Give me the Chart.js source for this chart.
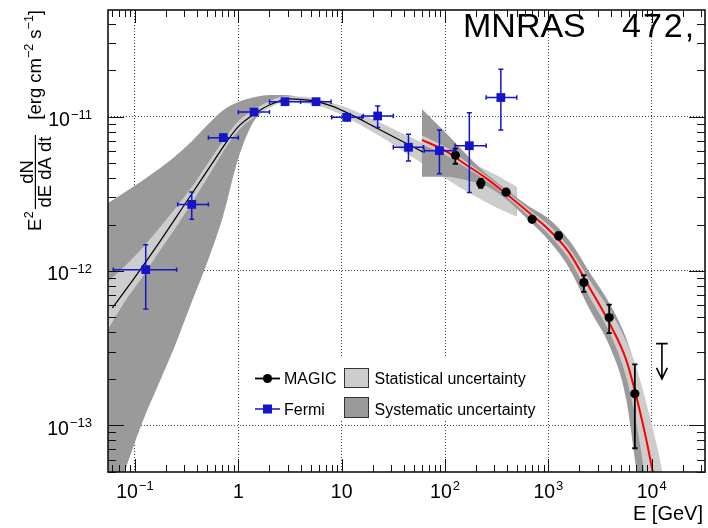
<!DOCTYPE html>
<html>
<head>
<meta charset="utf-8">
<script src="https://cdn.jsdelivr.net/npm/chart.js@4.4.1/dist/chart.umd.min.js"></script>
<style>
  html, body { margin: 0; padding: 0; background: #ffffff; }
  #wrap { width: 708px; height: 528px; position: relative; }
</style>
</head>
<body>
<div id="wrap"><canvas id="sed" width="708" height="528"></canvas></div>
<script>
// ---------------------------------------------------------------------------
// Spectral energy distribution: Fermi-LAT and MAGIC
// Energies in GeV, fluxes as E^2 dN/(dE dA dt) in erg cm^-2 s^-1
// ---------------------------------------------------------------------------

// Fermi-LAT spectral points
const fermiE   = [0.127, 0.354, 0.716, 1.42, 2.83, 5.65, 11.2, 22.3, 44.3, 88.3, 172, 347];
const fermiELo = [0.0617, 0.259, 0.513, 1.0, 2.0, 4.0, 8.0, 16.2, 31.6, 63, 125, 250];
const fermiEHi = [0.253, 0.513, 1.0, 2.0, 4.0, 7.9, 15.7, 31.6, 62, 125, 250, 495];
const fermiF   = [1.02e-12, 2.70e-12, 7.31e-12, 1.07e-11, 1.25e-11, 1.25e-11, 9.9e-12, 1.01e-11, 6.33e-12, 6.02e-12, 6.48e-12, 1.33e-11];
const fermiFLo = [5.67e-13, 2.16e-12, 6.95e-12, 1.03e-11, 1.21e-11, 1.20e-11, 9.4e-12, 8.5e-12, 5.16e-12, 4.26e-12, 3.22e-12, 8.2e-12];
const fermiFHi = [1.48e-12, 3.25e-12, 7.7e-12, 1.11e-11, 1.29e-11, 1.30e-11, 1.04e-11, 1.17e-11, 7.7e-12, 8.2e-12, 1.06e-11, 2.03e-11];

// MAGIC spectral points
const magicE   = [126, 222, 390, 697, 1254, 2206, 3880, 6870];
const magicF   = [5.62e-12, 3.70e-12, 3.24e-12, 2.16e-12, 1.69e-12, 8.41e-13, 4.99e-13, 1.60e-13];
const magicFLo = [4.95e-12, 3.45e-12, 3.12e-12, 2.08e-12, 1.60e-12, 7.31e-13, 3.96e-13, 7.1e-14];
const magicFHi = [6.2e-12, 3.95e-12, 3.36e-12, 2.24e-12, 1.78e-12, 9.38e-13, 6.05e-13, 2.48e-13];

// MAGIC upper limit (bar value and arrow tip)
const magicUlE = [12560];
const magicUlF = [3.38e-13];
const magicUlTip = [2.0e-13];

// Fitted spectra, tabulated as log10(E/GeV) and log10(flux)
const fermiFitLogE = [-1.22, -1.0, -0.75, -0.5, -0.25, -0.1, 0.0, 0.15, 0.3, 0.5, 0.7, 0.9, 1.1, 1.3, 1.5, 1.79];
const fermiFitLogF = [-12.24, -12.04, -11.80, -11.55, -11.30, -11.15, -11.065, -10.985, -10.925, -10.885, -10.895, -10.93, -10.99, -11.06, -11.13, -11.23];

const magicFitLogE = [1.776, 2.0, 2.2, 2.4, 2.6, 2.8, 3.0, 3.2, 3.4, 3.6, 3.75, 3.85, 3.95, 4.05];
const magicFitLogF = [-11.15, -11.22, -11.31, -11.40, -11.505, -11.615, -11.73, -11.88, -12.11, -12.35, -12.57, -12.81, -13.10, -13.44];

// Fermi uncertainty bands (log10 values)
const fermiBandLogE   = [-1.261, -1.1, -0.94, -0.75, -0.616, -0.45, -0.293, -0.15, 0.0, 0.15, 0.3, 0.45, 0.6, 0.8, 1.0, 1.25, 1.5, 1.75, 2.0, 2.25, 2.5, 2.695];
const fermiStatHiLogF = [-12.07, -11.97, -11.86, -11.71, -11.60, -11.455, -11.30, -11.16, -11.03, -10.955, -10.90, -10.87, -10.87, -10.89, -10.93, -11.00, -11.08, -11.16, -11.235, -11.30, -11.38, -11.455];
const fermiStatLoLogF = [-12.38, -12.20, -12.05, -11.86, -11.73, -11.56, -11.39, -11.23, -11.09, -11.005, -10.945, -10.905, -10.91, -10.935, -10.99, -11.08, -11.18, -11.29, -11.40, -11.50, -11.59, -11.648];
const fermiSysHiLogF  = [-11.56, -11.49, -11.42, -11.33, -11.26, -11.16, -11.05, -10.96, -10.905, -10.875, -10.86, -10.86, -10.875, -10.895, -10.935, -11.005, -11.085, -11.165, -11.24, -11.305, -11.385, -11.46];
const fermiSysLoLogF  = [-13.60, -13.30, -13.00, -12.70, -12.49, -12.20, -11.93, -11.65, -11.27, -11.03, -10.94, -10.90, -10.905, -10.93, -10.985, -11.075, -11.175, -11.285, -11.395, -11.495, -11.585, -11.643];

// MAGIC uncertainty bands (log10 values)
const magicBandLogE   = [1.776, 2.0, 2.2, 2.4, 2.6, 2.8, 3.0, 3.2, 3.4, 3.6, 3.75, 3.85, 3.95, 4.05, 4.15];
const magicSysHiLogF  = [-10.95, -11.10, -11.24, -11.37, -11.475, -11.575, -11.66, -11.80, -12.01, -12.22, -12.43, -12.64, -12.90, -13.20, -13.55];
const magicSysLoLogF  = [-11.39, -11.39, -11.41, -11.45, -11.54, -11.665, -11.80, -11.98, -12.25, -12.50, -12.82, -13.28, -13.75, -14.20, -14.70];
const magicStatHiLogF = [-11.12, -11.195, -11.29, -11.385, -11.49, -11.595, -11.70, -11.85, -12.06, -12.26, -12.45, -12.62, -12.86, -13.13, -13.46];
const magicStatLoLogF = [-11.18, -11.245, -11.33, -11.415, -11.52, -11.635, -11.76, -11.92, -12.17, -12.41, -12.68, -12.98, -13.40, -13.85, -14.30];

// Axis ranges and labelled decades
const X_MIN = 0.0548, X_MAX = 32800;
const Y_MIN = 4.98e-14, Y_MAX = 4.91e-11;
const xMajorTicks = [0.1, 1, 10, 100, 1000, 10000];
const xTickLabels = [['10', '\u22121'], ['1', ''], ['10', ''], ['10', '2'], ['10', '3'], ['10', '4']];
const yMajorTicks = [1e-13, 1e-12, 1e-11];
const yTickLabels = [['10', '\u221213'], ['10', '\u221212'], ['10', '\u221211']];

// ---------------------------------------------------------------------------
const FONT = '"Liberation Sans", Arial, Helvetica, sans-serif';
const BLUE = '#1414c8';
const LIGHT = '#cdcdcd';
const DARK = '#9a9a9a';

const pow10 = arr => arr.map(v => Math.pow(10, v));
const pts = (xs, ys) => xs.map((x, i) => ({ x: x, y: ys[i] }));

function edge(label, xs, ys, order) {
  return { label, data: pts(pow10(xs), pow10(ys)), borderWidth: 0, borderColor: 'rgba(0,0,0,0)',
           pointRadius: 0, cubicInterpolationMode: 'monotone', fill: false, order };
}
function edgeFilled(label, xs, ys, order, color) {
  const d = edge(label, xs, ys, order);
  d.fill = '-1';
  d.backgroundColor = color;
  return d;
}

// Inward tick marks on all four sides (1..9 per decade)
function decadeTicks(min, max) {
  const out = [];
  for (let e = Math.floor(Math.log10(min)); e <= Math.ceil(Math.log10(max)); e++) {
    for (let m = 1; m <= 9; m++) {
      const v = m * Math.pow(10, e);
      if (v >= min * 0.999 && v <= max * 1.001) out.push({ v, major: m === 1 });
    }
  }
  return out;
}

const errorBarPlugin = {
  id: 'errorBars',
  beforeDatasetDraw(chart, args) {
    const ds = chart.data.datasets[args.index];
    if (ds.label !== 'Fermi' && ds.label !== 'MAGIC') return;
    const { ctx, chartArea: a, scales: { x, y } } = chart;
    ctx.save();
    ctx.beginPath();
    ctx.rect(a.left, a.top, a.right - a.left, a.bottom - a.top);
    ctx.clip();
    ctx.beginPath();
    if (ds.label === 'Fermi') {
      ctx.strokeStyle = BLUE;
      ctx.lineWidth = 1.5;
      fermiE.forEach((e, i) => {
        const xc = x.getPixelForValue(e), yc = y.getPixelForValue(fermiF[i]);
        const xl = x.getPixelForValue(fermiELo[i]), xr = x.getPixelForValue(fermiEHi[i]);
        const yt = y.getPixelForValue(fermiFHi[i]), yb = y.getPixelForValue(fermiFLo[i]);
        ctx.moveTo(xl, yc); ctx.lineTo(xr, yc);
        ctx.moveTo(xl, yc - 2.2); ctx.lineTo(xl, yc + 2.2);
        ctx.moveTo(xr, yc - 2.2); ctx.lineTo(xr, yc + 2.2);
        ctx.moveTo(xc, yt); ctx.lineTo(xc, yb);
        ctx.moveTo(xc - 2.5, yt); ctx.lineTo(xc + 2.5, yt);
        ctx.moveTo(xc - 2.5, yb); ctx.lineTo(xc + 2.5, yb);
      });
    } else {
      ctx.strokeStyle = '#000';
      ctx.lineWidth = 1.8;
      magicE.forEach((e, i) => {
        const xc = x.getPixelForValue(e);
        const yt = y.getPixelForValue(magicFHi[i]), yb = y.getPixelForValue(magicFLo[i]);
        ctx.moveTo(xc, yt); ctx.lineTo(xc, yb);
        ctx.moveTo(xc - 2.6, yt); ctx.lineTo(xc + 2.6, yt);
        ctx.moveTo(xc - 2.6, yb); ctx.lineTo(xc + 2.6, yb);
      });
    }
    ctx.stroke();
    ctx.restore();
  }
};

const decorPlugin = {
  id: 'decor',
  afterDatasetsDraw(chart) {
    const { ctx, chartArea: a, scales: { x, y } } = chart;
    ctx.save();

    // upper limit arrow
    ctx.strokeStyle = '#000';
    ctx.lineWidth = 1.6;
    magicUlE.forEach((e, i) => {
      const ux = x.getPixelForValue(e), uy = y.getPixelForValue(magicUlF[i]), ty = y.getPixelForValue(magicUlTip[i]);
      ctx.beginPath();
      ctx.moveTo(ux - 5.8, uy); ctx.lineTo(ux + 5.8, uy);
      ctx.moveTo(ux, uy); ctx.lineTo(ux, ty);
      ctx.moveTo(ux - 5.4, ty - 11); ctx.lineTo(ux, ty); ctx.lineTo(ux + 5.4, ty - 11);
      ctx.stroke();
    });

    // legend
    ctx.fillStyle = '#ffffff';
    ctx.fillRect(246, 357, 294, 64);
    ctx.font = '16px ' + FONT;
    ctx.textBaseline = 'alphabetic';
    ctx.textAlign = 'left';
    ctx.strokeStyle = '#000'; ctx.lineWidth = 1.8;
    ctx.beginPath(); ctx.moveTo(255, 378.5); ctx.lineTo(280, 378.5); ctx.stroke();
    ctx.fillStyle = '#000';
    ctx.beginPath(); ctx.arc(267.5, 378.5, 4.6, 0, Math.PI * 2); ctx.fill();
    ctx.fillText('MAGIC', 284, 384.3);
    ctx.strokeStyle = BLUE; ctx.lineWidth = 1.5;
    ctx.beginPath(); ctx.moveTo(255, 409); ctx.lineTo(280, 409); ctx.stroke();
    ctx.fillStyle = BLUE;
    ctx.fillRect(263, 404.5, 9, 9);
    ctx.fillStyle = '#000';
    ctx.fillText('Fermi', 284, 414.8);
    ctx.lineWidth = 1;
    ctx.strokeStyle = '#333';
    ctx.fillStyle = LIGHT; ctx.fillRect(344.5, 368.5, 24, 19); ctx.strokeRect(344.5, 368.5, 24, 19);
    ctx.fillStyle = DARK; ctx.fillRect(344.5, 397.5, 24, 20); ctx.strokeRect(344.5, 397.5, 24, 20);
    ctx.fillStyle = '#000';
    ctx.fillText('Statistical uncertainty', 374.5, 384.3);
    ctx.fillText('Systematic uncertainty', 374.5, 414.8);

    // tick marks
    ctx.strokeStyle = '#111';
    ctx.lineWidth = 1;
    ctx.beginPath();
    decadeTicks(x.min, x.max).forEach(t => {
      const p = Math.round(x.getPixelForValue(t.v)) + 0.5;
      const len = t.major ? 13 : 7;
      ctx.moveTo(p, a.bottom); ctx.lineTo(p, a.bottom - len);
      ctx.moveTo(p, a.top); ctx.lineTo(p, a.top + len);
    });
    decadeTicks(y.min, y.max).forEach(t => {
      const p = Math.round(y.getPixelForValue(t.v)) + 0.5;
      const len = t.major ? 16 : 8;
      ctx.moveTo(a.left, p); ctx.lineTo(a.left + len, p);
      ctx.moveTo(a.right, p); ctx.lineTo(a.right - len, p);
    });
    ctx.stroke();

    // frame
    ctx.lineWidth = 1.6;
    ctx.strokeStyle = '#111';
    ctx.strokeRect(a.left, a.top, a.right - a.left, a.bottom - a.top);
    ctx.restore();
  },
  afterDraw(chart) {
    const { ctx, scales: { x, y } } = chart;
    const base = '19.5px ' + FONT, sup = '13px ' + FONT;
    ctx.save();
    ctx.fillStyle = '#000';
    ctx.textBaseline = 'alphabetic';
    ctx.textAlign = 'left';

    // x tick labels
    xMajorTicks.forEach((v, i) => {
      const [b, s] = xTickLabels[i];
      ctx.font = base; const wb = ctx.measureText(b).width;
      ctx.font = sup; const ws = s ? ctx.measureText(s).width + 1 : 0;
      const left = x.getPixelForValue(v) - (wb + ws) / 2;
      ctx.font = base; ctx.fillText(b, left, 498);
      if (s) { ctx.font = sup; ctx.fillText(s, left + wb + 1, 490); }
    });

    // y tick labels
    yMajorTicks.forEach((v, i) => {
      const [b, s] = yTickLabels[i];
      const py = y.getPixelForValue(v);
      ctx.font = sup; const ws = ctx.measureText(s).width;
      ctx.fillText(s, 92 - ws, py + 2);
      ctx.font = base; const wb = ctx.measureText(b).width;
      ctx.fillText(b, 92 - ws - 1 - wb, py + 9.5);
    });

    // x axis title
    ctx.font = '20px ' + FONT;
    ctx.textAlign = 'right';
    ctx.fillText('E [GeV]', 703, 520);

    // y axis title: E^2 dN/(dE dA dt) [erg cm^-2 s^-1], reading upwards
    ctx.save();
    ctx.translate(41, 0);
    ctx.rotate(-Math.PI / 2);
    const tMain = '18.5px ' + FONT, tSup = '12.5px ' + FONT;
    ctx.textAlign = 'left';
    ctx.font = tMain;
    let u = -231;
    ctx.fillText('E', u, 0);
    u += ctx.measureText('E').width + 0.5;
    ctx.font = tSup;
    ctx.fillText('2', u, -8);
    ctx.font = tMain;
    ctx.textAlign = 'center';
    const fc = -172;
    ctx.fillText('dN', fc, -8.5);
    ctx.fillText('dE dA dt', fc, 9.5);
    const fw = ctx.measureText('dE dA dt').width + 3;
    ctx.fillRect(fc - fw / 2, -6.2, fw, 1.2);
    ctx.textAlign = 'left';
    const unitParts = [['[erg cm', tMain, 0], ['\u22122', tSup, -8], [' s', tMain, 0], ['\u22121', tSup, -8], [']', tMain, 0]];
    let total = 0;
    unitParts.forEach(p => { ctx.font = p[1]; total += ctx.measureText(p[0]).width; });
    u = -10 - total;
    unitParts.forEach(p => { ctx.font = p[1]; ctx.fillText(p[0], u, p[2]); u += ctx.measureText(p[0]).width; });
    ctx.restore();

    // journal reference
    ctx.font = '34px ' + FONT;
    ctx.textAlign = 'left';
    ctx.fillText('MNRAS', 463, 36.5);
    if ('letterSpacing' in ctx) ctx.letterSpacing = '2px';
    ctx.fillText('472,', 622, 36.5);
    ctx.restore();
  }
};

Chart.defaults.font.family = FONT;

const datasets = [
  { label: 'Fermi', data: pts(fermiE, fermiF), showLine: false, pointStyle: 'rect', pointRadius: 6.2,
    backgroundColor: BLUE, borderColor: BLUE, borderWidth: 0, order: 1 },
  { label: 'MAGIC', data: pts(magicE, magicF), showLine: false, pointStyle: 'circle', pointRadius: 4.6,
    backgroundColor: '#000', borderColor: '#000', borderWidth: 0, order: 2 },
  { label: 'MAGIC fit', data: pts(pow10(magicFitLogE), pow10(magicFitLogF)), borderColor: '#ff0000',
    borderWidth: 2, pointRadius: 0, cubicInterpolationMode: 'monotone', fill: false, order: 3 },
  { label: 'Fermi fit', data: pts(pow10(fermiFitLogE), pow10(fermiFitLogF)), borderColor: '#000',
    borderWidth: 1.2, pointRadius: 0, cubicInterpolationMode: 'monotone', fill: false, order: 4 },
  edge('MAGIC stat upper', magicBandLogE, magicStatHiLogF, 6),
  edgeFilled('MAGIC stat lower', magicBandLogE, magicStatLoLogF, 6, LIGHT),
  edge('MAGIC sys upper', magicBandLogE, magicSysHiLogF, 7),
  edgeFilled('MAGIC sys lower', magicBandLogE, magicSysLoLogF, 7, DARK),
  edge('Fermi stat upper', fermiBandLogE, fermiStatHiLogF, 8),
  edgeFilled('Fermi stat lower', fermiBandLogE, fermiStatLoLogF, 8, LIGHT),
  edge('Fermi sys upper', fermiBandLogE, fermiSysHiLogF, 9),
  edgeFilled('Fermi sys lower', fermiBandLogE, fermiSysLoLogF, 9, DARK)
];

new Chart(document.getElementById('sed'), {
  type: 'line',
  data: { datasets },
  options: {
    responsive: false,
    animation: false,
    devicePixelRatio: 1,
    layout: { autoPadding: false, padding: { left: 108, right: 3, top: 10, bottom: 56 } },
    plugins: { legend: { display: false }, tooltip: { enabled: false } },
    scales: {
      x: {
        type: 'logarithmic', min: X_MIN, max: X_MAX,
        afterBuildTicks: s => { s.ticks = xMajorTicks.map(v => ({ value: v })); },
        afterFit: s => { s.height = 0; s.paddingRight = 0; s.paddingLeft = 0; },
        ticks: { display: false, padding: 0 },
        grid: { color: 'rgba(30,30,30,0.85)', lineWidth: 1, drawTicks: false },
        border: { display: false, dash: [1, 2] }
      },
      y: {
        type: 'logarithmic', min: Y_MIN, max: Y_MAX,
        afterBuildTicks: s => { s.ticks = yMajorTicks.map(v => ({ value: v })); },
        afterFit: s => { s.width = 0; s.paddingTop = 0; s.paddingBottom = 0; },
        ticks: { display: false, padding: 0 },
        grid: { color: 'rgba(30,30,30,0.85)', lineWidth: 1, drawTicks: false },
        border: { display: false, dash: [1, 2] }
      }
    }
  },
  plugins: [errorBarPlugin, decorPlugin]
});
</script>
</body>
</html>
